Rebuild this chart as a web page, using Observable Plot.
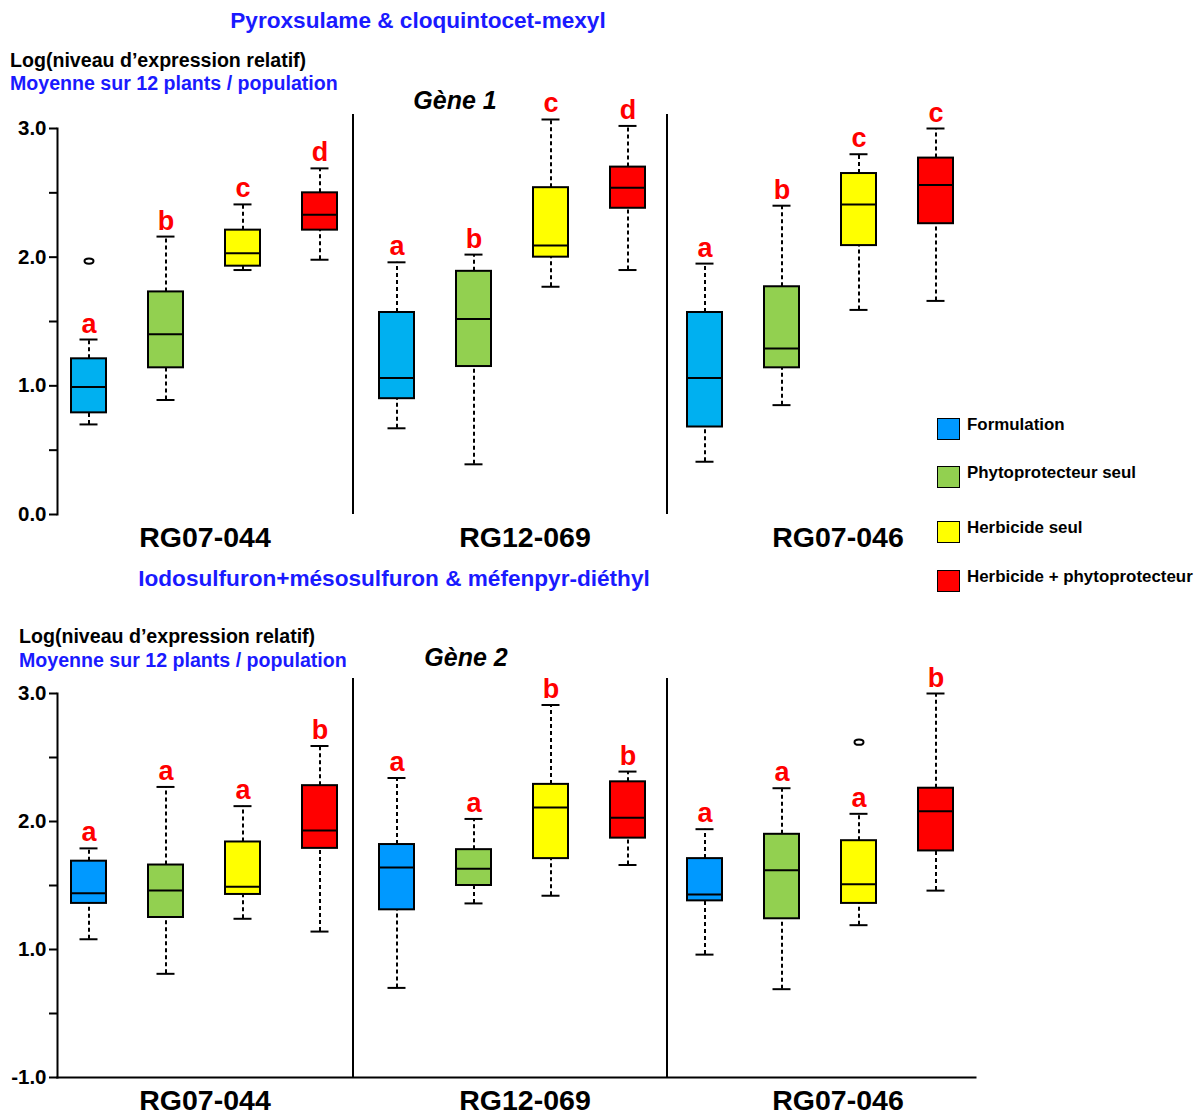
<!DOCTYPE html>
<html>
<head>
<meta charset="utf-8">
<script src="https://cdn.jsdelivr.net/npm/d3@7"></script>
<script src="https://cdn.jsdelivr.net/npm/@observablehq/plot@0.6"></script>
<style>
  html, body { margin: 0; padding: 0; background: #fff; }
  #root { position: relative; width: 1202px; height: 1115px; overflow: hidden;
          font-family: "Liberation Sans", Arial, sans-serif; font-weight: bold; }
  #root svg { position: absolute; left: 0; background: transparent; }
  .t { position: absolute; white-space: nowrap; line-height: 1.2; }
</style>
</head>
<body>
<div id="root"></div>
<script>
// ---------- data ----------
const populations = ["RG07-044", "RG12-069", "RG07-046"];
const treatments = ["Formulation", "Phytoprotecteur seul", "Herbicide seul", "Herbicide + phytoprotecteur"];
const colorsGene1 = ["#00B0F0", "#92D050", "#FFFF00", "#FF0000"];
const colorsGene2 = ["#0099FF", "#92D050", "#FFFF00", "#FF0000"];
const legendColors = ["#0099FF", "#92D050", "#FFFF00", "#FF0000"];

const yTicks = [0, 1, 2, 3];
const yMinorTicks = [0.5, 1.5, 2.5];
const yLabelsGene1 = ["0.0", "1.0", "2.0", "3.0"];
const yLabelsGene2 = ["-1.0", "1.0", "2.0", "3.0"];

// order: population-major, then treatment
const g1Low  = [0.70, 0.89, 1.90, 1.98,  0.67, 0.39, 1.77, 1.90,  0.41, 0.85, 1.59, 1.66];
const g1Q1   = [0.79, 1.14, 1.93, 2.21,  0.90, 1.15, 2.00, 2.38,  0.68, 1.14, 2.09, 2.26];
const g1Med  = [0.99, 1.40, 2.03, 2.33,  1.06, 1.52, 2.09, 2.54,  1.06, 1.29, 2.41, 2.56];
const g1Q3   = [1.21, 1.73, 2.21, 2.50,  1.57, 1.89, 2.54, 2.70,  1.57, 1.77, 2.65, 2.77];
const g1High = [1.36, 2.16, 2.41, 2.69,  1.96, 2.02, 3.07, 3.02,  1.95, 2.40, 2.80, 3.00];
const g1Letters = ["a", "b", "c", "d",  "a", "b", "c", "d",  "a", "b", "c", "c"];
const g1Outliers = [{pop: "RG07-044", treat: "Formulation", value: 1.97}];

const g2Low  = [1.08, 0.81, 1.24, 1.14,  0.70, 1.36, 1.42, 1.66,  0.96, 0.69, 1.19, 1.46];
const g2Q1   = [1.36, 1.25, 1.43, 1.79,  1.31, 1.50, 1.71, 1.87,  1.38, 1.24, 1.36, 1.77];
const g2Med  = [1.44, 1.46, 1.49, 1.93,  1.64, 1.63, 2.11, 2.03,  1.43, 1.62, 1.51, 2.08];
const g2Q3   = [1.69, 1.66, 1.84, 2.28,  1.82, 1.78, 2.29, 2.31,  1.71, 1.90, 1.85, 2.26];
const g2High = [1.79, 2.27, 2.12, 2.59,  2.34, 2.02, 2.91, 2.39,  1.94, 2.26, 2.06, 3.00];
const g2Letters = ["a", "a", "a", "b",  "a", "a", "b", "b",  "a", "a", "a", "b"];
const g2Outliers = [{pop: "RG07-046", treat: "Herbicide seul", value: 2.62}];

// ---------- helpers ----------
const FONT = '"Liberation Sans", Arial, sans-serif';
const keyOf = (p, t) => p + "|" + t;
const keys = populations.flatMap(p => treatments.map(t => keyOf(p, t)));

function rowsFor(low, q1, med, q3, high, letters, colors) {
  const rows = [];
  populations.forEach((p, i) => treatments.forEach((t, j) => {
    const k = i * treatments.length + j;
    rows.push({key: keyOf(p, t), low: low[k], q1: q1[k], med: med[k], q3: q3[k], high: high[k],
               letter: letters[k], color: colors[j]});
  }));
  return rows;
}

const ellipse = {
  draw(ctx) {
    const rx = 4.5, ry = 2.6, c = 0.5523;
    ctx.moveTo(rx, 0);
    ctx.bezierCurveTo(rx, ry * c, rx * c, ry, 0, ry);
    ctx.bezierCurveTo(-rx * c, ry, -rx, ry * c, -rx, 0);
    ctx.bezierCurveTo(-rx, -ry * c, -rx * c, -ry, 0, -ry);
    ctx.bezierCurveTo(rx * c, -ry, rx, -ry * c, rx, 0);
    ctx.closePath();
  }
};

function panel({rows, outliers, labels, marginTop, marginBottom, plotHeight, bottomLine, dividerInsetTop}) {
  const lastT = treatments[treatments.length - 1];
  const marks = [
    Plot.frame({anchor: "left", strokeWidth: 2}),
    Plot.axisY({ticks: yTicks, tickFormat: d => labels[yTicks.indexOf(d)], tickSize: 8, tickPadding: 3,
                fontSize: 20.5, fontWeight: "bold", strokeWidth: 2, label: null}),
    Plot.axisY({ticks: yMinorTicks, tickFormat: () => "", tickSize: 8, strokeWidth: 2, label: null}),
    // population separators
    Plot.ruleX([keyOf(populations[0], lastT)], {x: d => d, dx: 33, insetTop: dividerInsetTop, strokeWidth: 2}),
    Plot.ruleX([keyOf(populations[1], lastT)], {x: d => d, dx: 39, insetTop: dividerInsetTop, strokeWidth: 2}),
    // whiskers
    Plot.ruleX(rows, {x: "key", y1: "q3", y2: "high", strokeWidth: 2, strokeDasharray: "4,3"}),
    Plot.ruleX(rows, {x: "key", y1: "low", y2: "q1", strokeWidth: 2, strokeDasharray: "4,3"}),
    Plot.tickY(rows, {x: "key", y: "high", strokeWidth: 2, insetLeft: 8.5, insetRight: 8.5}),
    Plot.tickY(rows, {x: "key", y: "low", strokeWidth: 2, insetLeft: 8.5, insetRight: 8.5}),
    // boxes
    Plot.barY(rows, {x: "key", y1: "q1", y2: "q3", fill: "color", stroke: "black", strokeWidth: 2}),
    Plot.tickY(rows, {x: "key", y: "med", strokeWidth: 2}),
    // outliers
    Plot.dot(outliers, {x: d => keyOf(d.pop, d.treat), y: "value", symbol: ellipse, stroke: "black",
                        strokeWidth: 2, fill: "none"}),
    // significance letters
    Plot.text(rows, {x: "key", y: "high", text: "letter", dy: -7, lineAnchor: "bottom",
                     fill: "#FF0000", fontSize: 27, fontWeight: "bold"})
  ];
  if (bottomLine) marks.splice(1, 0, Plot.frame({anchor: "bottom", strokeWidth: 2, insetRight: -8}));
  return Plot.plot({
    width: 1202,
    height: marginTop + plotHeight + marginBottom,
    marginLeft: 57,
    marginRight: 235,
    marginTop,
    marginBottom,
    style: {fontFamily: FONT, fontWeight: "bold", color: "black", background: "transparent", overflow: "visible"},
    x: {type: "band", domain: keys, paddingInner: 0.549, paddingOuter: 0.135, axis: null},
    y: {domain: [0, 3], axis: null},
    color: {type: "identity"},
    marks
  });
}

const root = document.getElementById("root");

const top1 = panel({
  rows: rowsFor(g1Low, g1Q1, g1Med, g1Q3, g1High, g1Letters, colorsGene1),
  outliers: g1Outliers, labels: yLabelsGene1,
  marginTop: 128, plotHeight: 386, marginBottom: 10, bottomLine: false, dividerInsetTop: -14
});
top1.style.top = "0px";
root.appendChild(top1);

const bottom2 = panel({
  rows: rowsFor(g2Low, g2Q1, g2Med, g2Q3, g2High, g2Letters, colorsGene2),
  outliers: g2Outliers, labels: yLabelsGene2,
  marginTop: 133, plotHeight: 384, marginBottom: 12, bottomLine: true, dividerInsetTop: -15
});
bottom2.style.top = "560px";
root.appendChild(bottom2);

// ---------- texts ----------
function txt(s, {x, cy, size, color = "black", italic = false, anchor = "start"}) {
  const el = document.createElement("div");
  el.className = "t";
  el.textContent = s;
  el.style.fontSize = size + "px";
  el.style.color = color;
  if (italic) el.style.fontStyle = "italic";
  el.style.top = (cy - size * 0.62) + "px";
  el.style.left = x + "px";
  if (anchor === "middle") el.style.transform = "translateX(-50%)";
  root.appendChild(el);
  return el;
}
const BLUE = "#1a1aff";
txt("Pyroxsulame & cloquintocet-mexyl", {x: 418, cy: 21, size: 22.6, color: BLUE, anchor: "middle"});
txt("Log(niveau d\u2019expression relatif)", {x: 10, cy: 61, size: 19.6});
txt("Moyenne sur 12 plants / population", {x: 10, cy: 84, size: 19.6, color: BLUE});
txt("Gène 1", {x: 455, cy: 100, size: 25, italic: true, anchor: "middle"});

txt("Iodosulfuron+mésosulfuron & méfenpyr-diéthyl", {x: 394, cy: 579, size: 22.6, color: BLUE, anchor: "middle"});
txt("Log(niveau d\u2019expression relatif)", {x: 19, cy: 637, size: 19.6});
txt("Moyenne sur 12 plants / population", {x: 19, cy: 661, size: 19.6, color: BLUE});
txt("Gène 2", {x: 466, cy: 657, size: 25, italic: true, anchor: "middle"});

const popLabelX = [205, 525, 838];
populations.forEach((p, i) => {
  txt(p, {x: popLabelX[i], cy: 538, size: 28.5, anchor: "middle"});
  txt(p, {x: popLabelX[i], cy: 1101, size: 28.5, anchor: "middle"});
});

// ---------- legend ----------
const legendY = [429, 477, 532, 581];
treatments.forEach((t, i) => {
  const sq = document.createElement("div");
  sq.style.position = "absolute";
  sq.style.left = "937px";
  sq.style.top = (legendY[i] - 11) + "px";
  sq.style.width = "21px";
  sq.style.height = "20px";
  sq.style.background = legendColors[i];
  sq.style.border = "1.5px solid black";
  root.appendChild(sq);
  txt(t, {x: 967, cy: legendY[i] - 4, size: 16.9});
});
</script>
</body>
</html>
